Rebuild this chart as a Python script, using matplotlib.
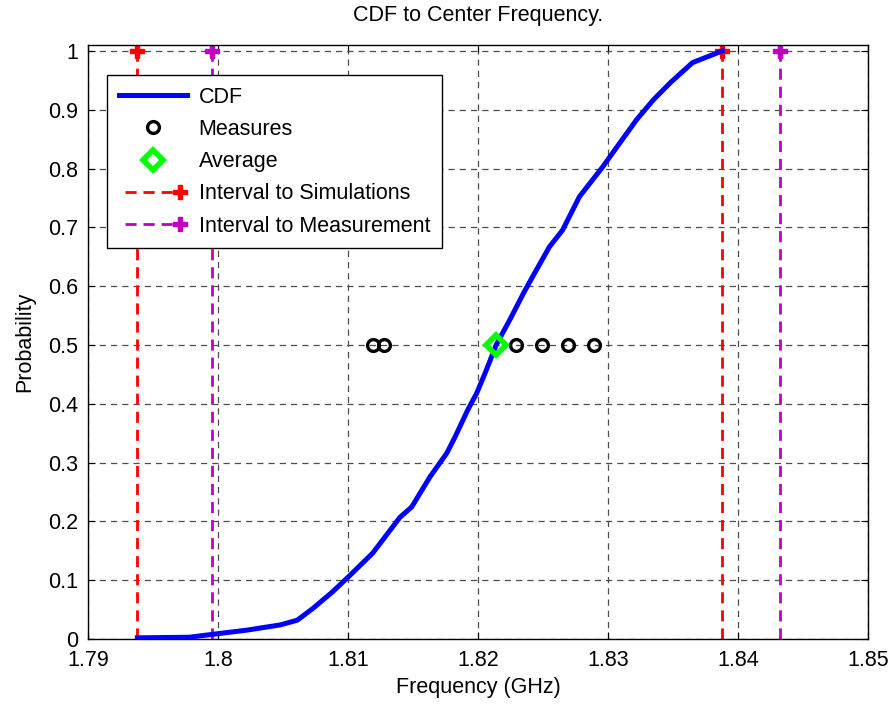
import matplotlib.pyplot as plt
from matplotlib.legend_handler import HandlerLine2D

plt.rcParams['font.family'] = ['Liberation Sans', 'DejaVu Sans']

# ── Dati ──────────────────────────────────────────────────────────
cdf_freq = [1.7938, 1.7978, 1.7996, 1.8022, 1.8048, 1.8061, 1.8073, 1.8088,
            1.8100, 1.8119, 1.8140, 1.8149, 1.8163, 1.8176, 1.8182, 1.8192,
            1.8199, 1.8206, 1.8214, 1.8225, 1.8235, 1.8242, 1.8255, 1.8265,
            1.8278, 1.8296, 1.8307, 1.8322, 1.8335, 1.8348, 1.8365, 1.8388]
cdf_prob = [0.002, 0.003, 0.008, 0.015, 0.024, 0.032, 0.052, 0.080,
            0.105, 0.146, 0.207, 0.2245, 0.2755, 0.316, 0.342, 0.389,
            0.418, 0.455, 0.500, 0.545, 0.588, 0.616, 0.667, 0.695,
            0.752, 0.803, 0.837, 0.883, 0.917, 0.946, 0.980, 1.000]

measures = [1.8119, 1.8128, 1.8229, 1.8249, 1.8269, 1.8289]
average = sum(measures) / len(measures)

sim_interval = [1.7938, 1.8388]
meas_interval = [1.7995, 1.8432]

x_ticks = [1.79, 1.80, 1.81, 1.82, 1.83, 1.84, 1.85]
x_labels = ['1.79', '1.8', '1.81', '1.82', '1.83', '1.84', '1.85']
y_ticks = [0, 0.1, 0.2, 0.3, 0.4, 0.5, 0.6, 0.7, 0.8, 0.9, 1]
y_labels = ['0', '0.1', '0.2', '0.3', '0.4', '0.5', '0.6', '0.7', '0.8', '0.9', '1']

FS = 15.5


# marker solo all'estremo destro della linea in legenda (come MATLAB)
class RightMarker(HandlerLine2D):
    def create_artists(self, legend, orig_handle, xdescent, ydescent,
                       width, height, fontsize, trans):
        arts = super().create_artists(legend, orig_handle, xdescent, ydescent,
                                      width, height, fontsize, trans)
        for a in arts:
            a.set_markevery([len(a.get_xdata()) - 1])
        return arts


# ── Figura ────────────────────────────────────────────────────────
fig = plt.figure(figsize=(8.93, 7.04), dpi=100)
ax = fig.add_axes([88 / 893, 65 / 704, 780 / 893, 594 / 704])

ax.plot(cdf_freq, cdf_prob, color='#0000ff', lw=3.6, label='CDF', zorder=3)
ax.plot(measures, [0.5] * len(measures), 'o', ms=8.5, mfc='none', mec='black',
        mew=2.4, label='Measures', zorder=4)
ax.plot([average], [0.5], 'D', ms=10, mfc='none', mec='#00ff00', mew=4,
        label='Average', zorder=5)

sim_lines = []
for xv in sim_interval:
    sim_lines += ax.plot([xv, xv], [0, 1], color='red', lw=2, marker='P', ms=10,
                         markevery=[1], dashes=(4, 2.5), zorder=2)
meas_lines = []
for xv in meas_interval:
    meas_lines += ax.plot([xv, xv], [0, 1], color='#c000c0', lw=2, marker='P',
                          ms=10, markevery=[1], dashes=(4, 2.5), zorder=2)

ax.set_xlim(1.79, 1.85)
ax.set_ylim(0, 1.01)
ax.set_xticks(x_ticks, x_labels)
ax.set_yticks(y_ticks, y_labels)
ax.tick_params(direction='in', top=True, right=True, length=5, labelsize=FS)
ax.tick_params(axis='x', pad=8)
ax.tick_params(axis='y', pad=7)
ax.grid(True, color='0.3', lw=0.9, dashes=(5, 4))
for sp in ax.spines.values():
    sp.set_linewidth(1.0)

ax.set_title('CDF to Center Frequency.', fontsize=FS, pad=17)
ax.set_xlabel('Frequency (GHz)', fontsize=FS, labelpad=4)
ax.set_ylabel('Probability', fontsize=FS, labelpad=9)

lines = ax.get_lines()
handles = [lines[0], lines[1], lines[2], sim_lines[0], meas_lines[0]]
labels = ['CDF', 'Measures', 'Average', 'Interval to Simulations',
          'Interval to Measurement']
hm = {sim_lines[0]: RightMarker(numpoints=2),
      meas_lines[0]: RightMarker(numpoints=2)}
leg = ax.legend(handles, labels, loc='upper left',
                bbox_to_anchor=(0.0244, 0.9495), borderaxespad=0,
                fontsize=FS, numpoints=1, handlelength=3.15, handler_map=hm,
                fancybox=False, framealpha=1, edgecolor='black',
                borderpad=0.55, labelspacing=0.52, handletextpad=0.55)
leg.get_frame().set_linewidth(1.0)

fig.savefig('out.png', dpi=100)
